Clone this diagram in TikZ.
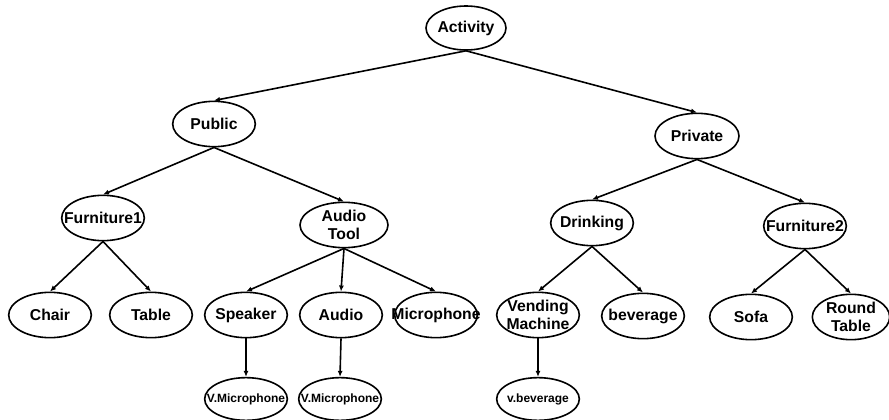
\documentclass[tikz,border=0pt]{standalone}
\usepackage{fontspec}
\setmainfont{Liberation Sans}
\usetikzlibrary{shapes.geometric,arrows.meta}
\begin{document}
\begin{tikzpicture}[x=0.75pt,y=-0.75pt,
  ell/.style={draw,ellipse,line width=1.2pt,inner sep=0pt,minimum width=62pt,minimum height=34pt},
  small/.style={ell,minimum height=32pt},
  every label/.style={font=\bfseries\fontsize{11.8}{13.8}\selectfont,align=center,inner sep=0pt},
  lbl/.style={font=\bfseries\fontsize{9}{10}\selectfont},
  arr/.style={line width=1.2pt,-{Latex[length=4.5pt,width=3.8pt]}}]
\useasboundingbox (0,0) rectangle (889,420);
% level 0
\node[ell,minimum width=60pt,minimum height=33pt,label={center:Activity}] (act) at (466,28) {};
% level 1
\node[ell,label={center:Public}] (pub) at (214,124) {};
\node[ell,minimum width=63pt,label={center:Private}] (pri) at (697,136) {};
% level 2
\node[ell,label={center:Furniture1}] (fur1) at (103,218) {};
\node[ell,minimum width=66pt,label={center:Audio\\Tool}] (aud) at (344,225) {};
\node[ell,label={center:Drinking}] (dri) at (592,223) {};
\node[ell,label={center:Furniture2}] (fur2) at (805,226) {};
% level 3
\node[ell,label={center:Chair}] (cha) at (50,315) {};
\node[ell,label={center:Table}] (tab) at (151,315) {};
\node[ell,label={center:Speaker}] (spk) at (246,315) {};
\node[ell,label={center:Audio}] (aud2) at (341,315) {};
\node[ell,label={center:Microphone}] (mic) at (436,315) {};
\node[ell,label={center:Vending\\Machine}] (ven) at (538,315) {};
\node[ell,label={center:beverage}] (bev) at (643,316) {};
\node[ell,label={center:Sofa}] (sof) at (751,317) {};
\node[ell,minimum width=58pt,label={center:Round\\Table}] (rtb) at (851,317) {};
% level 4
\node[small,label={[lbl]center:V.Microphone}] (vm1) at (246,399) {};
\node[small,label={[lbl]center:V.Microphone}] (vm2) at (340,399) {};
\node[small,label={[lbl]center:v.beverage}] (vbv) at (538,399) {};
% connectors
\draw[arr] (act.south) -- (pub.north);
\draw[arr] (act.south) -- (pri.north);
\draw[arr] (pub.south) -- (fur1.north);
\draw[arr] (pub.south) -- (aud.north);
\draw[arr] (pri.south) -- (dri.north);
\draw[arr] (pri.south) -- (fur2.north);
\draw[arr] (fur1.south) -- (cha.north);
\draw[arr] (fur1.south) -- (tab.north);
\draw[arr] (aud.south) -- (spk.north);
\draw[arr] (aud.south) -- (aud2.north);
\draw[arr] (aud.south) -- (mic.north);
\draw[arr] (dri.south) -- (ven.north);
\draw[arr] (dri.south) -- (bev.north);
\draw[arr] (fur2.south) -- (sof.north);
\draw[arr] (fur2.south) -- (rtb.north);
\draw[arr] (spk.south) -- (vm1.north);
\draw[arr] (aud2.south) -- (vm2.north);
\draw[arr] (ven.south) -- (vbv.north);
\end{tikzpicture}
\end{document}
